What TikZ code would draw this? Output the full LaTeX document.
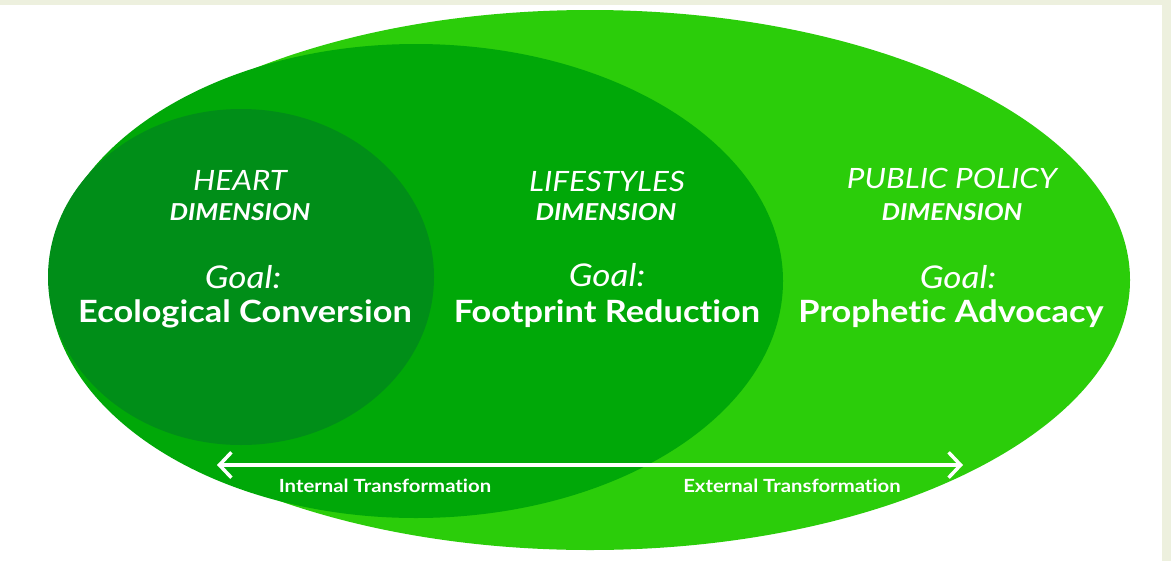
\documentclass[tikz,border=0pt]{standalone}
\usepackage{fontspec}
\setmainfont{Lato}[FakeStretch=1.12, Ligatures={NoCommon}]
\usetikzlibrary{shapes.geometric,arrows.meta}
\definecolor{outerg}{RGB}{43,205,10}
\definecolor{midg}{RGB}{0,168,8}
\definecolor{heartg}{RGB}{0,142,24}
\definecolor{cream}{RGB}{237,240,222}
\tikzset{
  blob/.style={ellipse, draw=none, inner sep=0pt, outer sep=0pt},
  dimtitle/.style={text=white, anchor=base, inner sep=0pt, font=\fontsize{21}{24}\selectfont\itshape},
  dimsub/.style={text=white, anchor=base, inner sep=0pt, font=\fontsize{17.5}{20}\selectfont\bfseries\itshape},
  goallbl/.style={text=white, anchor=base, inner sep=0pt, font=\fontsize{23.5}{27}\selectfont\itshape},
  goalname/.style={text=white, anchor=base, inner sep=0pt, font=\fontsize{23}{26}\selectfont\bfseries},
  translbl/.style={text=white, anchor=base, inner sep=0pt, font=\fontsize{13.6}{16}\selectfont\bfseries},
  twoway/.style={white, line width=2.4pt, {Straight Barb[length=9pt,width=19pt,line width=2.6pt]}-{Straight Barb[length=9pt,width=19pt,line width=2.6pt]}}
}
\begin{document}
\begin{tikzpicture}[x=0.75pt, y=-0.75pt]
\useasboundingbox (0,0) rectangle (1171,561);
\fill[white] (0,0) rectangle (1171,561);
\fill[cream] (0,0) rectangle (1171,5);
\fill[cream] (1162,0) rectangle (1171,561);
% ellipses
\node[blob, fill=outerg, minimum width=810pt, minimum height=405pt] (outer) at (590,280) {};
\node[blob, fill=midg, minimum width=550.5pt, minimum height=355.5pt] (middle) at (416,281) {};
\node[blob, fill=heartg, minimum width=289.5pt, minimum height=252pt] (heart) at (241,277) {};
% heart column
\node[dimtitle] (h1) at (240,190) {HEART};
\node[dimsub] (h2) at (240,220) {DIMENSION};
\node[goallbl] (h3) at (243,288) {Goal:};
\node[goalname] (h4) at (245,322) {Ecological Conversion};
% lifestyles column
\node[dimtitle] (l1) at (607,191) {LIFESTYLES};
\node[dimsub] (l2) at (606,220) {DIMENSION};
\node[goallbl] (l3) at (607,286) {Goal:};
\node[goalname] (l4) at (607,322) {Footprint Reduction};
% public policy column
\node[dimtitle] (p1) at (952,188) {PUBLIC POLICY};
\node[dimsub] (p2) at (952,220) {DIMENSION};
\node[goallbl] (p3) at (958,288) {Goal:};
\node[goalname] (p4) at (951,322) {Prophetic Advocacy};
% arrow
\coordinate (arL) at (217,465);
\coordinate (arR) at (963,465);
\draw[twoway] (arL) -- (arR);
\node[translbl] (tin) at (385,492) {Internal Transformation};
\node[translbl] (tex) at (792,492) {External Transformation};
\end{tikzpicture}
\end{document}
